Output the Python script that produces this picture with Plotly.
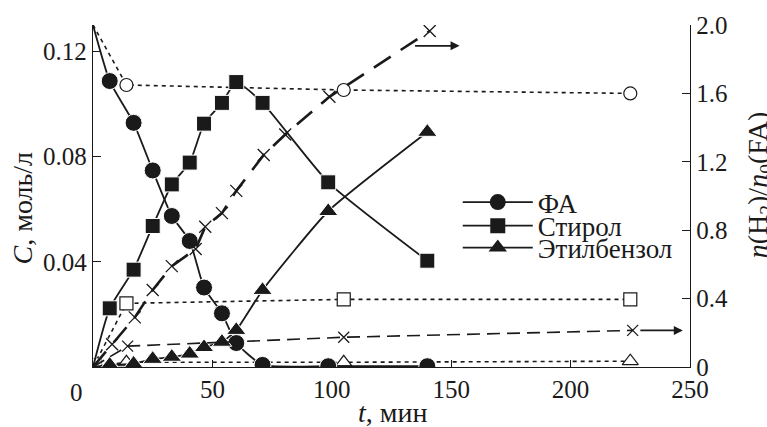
import plotly.graph_objects as go

# ---------------- data ----------------
# main experiment (left axis, mol/L)
t_main = [0, 7, 17, 25, 33, 40.5, 46.5, 54, 60, 71, 98.5, 140]
c_fa = [0.130, 0.1087, 0.0928, 0.0747, 0.0574, 0.0479, 0.0302, 0.0204, 0.0091, 0.0008, 0.0003, 0.0003]
c_styrene = [0.0, 0.0223, 0.0370, 0.0536, 0.0694, 0.0777, 0.0925, 0.1004, 0.1083, 0.1004, 0.0702, 0.0404]
c_ethylbenzene = [0.0, 0.0008, 0.0012, 0.0030, 0.0038, 0.0050, 0.0075, 0.0095, 0.0140, 0.0292, 0.0592, 0.0893]

# control experiment (left axis, open markers)
t_ctrl = [0, 14, 105, 225]
c_fa_ctrl = [0.130, 0.1072, 0.1053, 0.1040]
c_styrene_ctrl = [0.0, 0.0242, 0.0257, 0.0257]
c_eb_ctrl = [0.0, 0.0018, 0.0018, 0.0022]

# hydrogen ratio (right axis)
t_h2 = [0, 8, 17.5, 25, 33, 43, 47, 54, 60, 71.5, 80.5, 99, 141]
r_h2 = [0.0, 0.133, 0.29, 0.45, 0.59, 0.69, 0.82, 0.90, 1.03, 1.24, 1.36, 1.58, 1.965]
t_h2_ctrl = [0, 14.5, 105, 226]
r_h2_ctrl = [0.0, 0.122, 0.174, 0.214]

x_ticks = [0, 50, 100, 150, 200, 250]
y_ticks = [0.04, 0.08, 0.12]
y2_ticks = [0, 0.4, 0.8, 1.2, 1.6, 2.0]
y2_ticktext = ["0", "0.4", "0.8", "1.2", "1.6", "2.0"]

names = ["ФА", "Стирол", "Этилбензол"]

FONT = "Liberation Serif, Times New Roman, DejaVu Serif, serif"
BLACK = "#1a1a1a"
TICK_SIZE = 25
TITLE_SIZE = 28
LEGEND_SIZE = 27

fig = go.Figure()

# control experiment: dotted lines, open markers
def ctrl_trace(t, c, symbol, first_size, size, first_line=BLACK):
    sizes = [first_size] + [size] * (len(t) - 1)
    lcol = [first_line] + [BLACK] * (len(t) - 1)
    return go.Scatter(
        x=t, y=c, mode="lines+markers", showlegend=False,
        line=dict(color=BLACK, width=1.6, dash="4px,4px"),
        marker=dict(symbol=symbol, size=sizes, color="white", opacity=1,
                    line=dict(color=lcol, width=1.2)),
    )

fig.add_trace(ctrl_trace(t_ctrl, c_fa_ctrl, "circle", 0, 13))
fig.add_trace(ctrl_trace(t_ctrl, c_styrene_ctrl, "square", 17, 13, "#aaaaaa"))
fig.add_trace(ctrl_trace(t_ctrl, c_eb_ctrl, "triangle-up", 0, 14))

# hydrogen (right axis)
fig.add_trace(go.Scatter(
    x=t_h2_ctrl, y=r_h2_ctrl, yaxis="y2", mode="lines+markers", showlegend=False,
    line=dict(color=BLACK, width=1.6, dash="13px,7px"),
    marker=dict(symbol="x-thin", size=[0, 11, 11, 11], color=BLACK, opacity=1,
                line=dict(color=BLACK, width=1.3)),
))
fig.add_trace(go.Scatter(
    x=t_h2, y=r_h2, yaxis="y2", mode="lines+markers", showlegend=False,
    line=dict(color=BLACK, width=2.6, dash="20px,12px"),
    marker=dict(symbol="x-thin", size=12, color=BLACK, line=dict(color=BLACK, width=1.3)),
))

# main experiment: solid lines, filled markers
main_series = [(c_fa, "circle", 17), (c_styrene, "square", 15), (c_ethylbenzene, "triangle-up", 17)]
for (vals, sym, sz) in main_series:
    sizes = [0] + [sz] * (len(t_main) - 1)
    fig.add_trace(go.Scatter(
        x=t_main, y=vals, mode="lines+markers", showlegend=False,
        line=dict(color=BLACK, width=1.8, shape="spline", smoothing=0.5),
        marker=dict(symbol=sym, size=sizes, color=BLACK, opacity=1),
    ))

# legend entries (one legend per row to match the tight spacing)
legend_keys = ["legend", "legend2", "legend3"]
for name, (vals, sym, sz), lk in zip(names, main_series, legend_keys):
    fig.add_trace(go.Scatter(
        x=[None], y=[None], mode="lines+markers", name=name, legend=lk,
        line=dict(color=BLACK, width=1.8),
        marker=dict(symbol=sym, size=sz, color=BLACK),
    ))

axis_common = dict(
    showline=True, linecolor=BLACK, linewidth=1.3, ticks="inside", tickcolor=BLACK,
    tickwidth=1.3, showgrid=False, zeroline=False,
    tickfont=dict(family=FONT, size=TICK_SIZE, color=BLACK),
)

leg_common = dict(
    font=dict(family=FONT, size=LEGEND_SIZE, color=BLACK), bgcolor="rgba(0,0,0,0)",
    borderwidth=0, itemwidth=70, xanchor="left", yanchor="middle", x=0.611,
)

title_font = dict(family=FONT, size=TITLE_SIZE, color=BLACK)

# arrows drawn in pixel offsets from their heads (ax/ay relative, in px)
arrow_common = dict(xref="x", yref="y2", showarrow=True, arrowhead=2, arrowsize=1,
                    arrowwidth=1.8, arrowcolor=BLACK, text="", ay=0)

fig.update_layout(
    width=767, height=427,
    margin=dict(l=93, r=77, t=22, b=60),
    paper_bgcolor="white", plot_bgcolor="white",
    font=dict(family=FONT, size=TICK_SIZE, color=BLACK),
    xaxis=dict(range=[0, 250], tickvals=x_ticks,
               ticktext=[""] + [str(v) for v in x_ticks[1:]], ticklen=7, **axis_common),
    yaxis=dict(range=[0, 0.13], tickvals=y_ticks, ticktext=["0.04", "0.08", "0.12"],
               ticklen=8, **axis_common),
    yaxis2=dict(range=[0, 2.0], overlaying="y", side="right", tickvals=y2_ticks,
                ticktext=y2_ticktext, ticklen=8, **axis_common),
    legend=dict(y=0.481, **leg_common),
    legend2=dict(y=0.412, **leg_common),
    legend3=dict(y=0.348, **leg_common),
    annotations=[
        dict(text="0", xref="paper", yref="paper", x=-0.027, y=-0.075,
             xanchor="center", yanchor="middle", showarrow=False,
             font=dict(family=FONT, size=TICK_SIZE, color=BLACK)),
        dict(text="<i>t</i>, мин", xref="paper", yref="paper", x=0.5025, y=-0.134,
             xanchor="center", yanchor="middle", showarrow=False, font=title_font),
        dict(text="<i>C</i>, моль/л", xref="paper", yref="paper", x=-0.118, y=0.465,
             xanchor="center", yanchor="middle", showarrow=False, textangle=-90,
             font=title_font),
        dict(text="<i>n</i>(H<sub>2</sub>)/<i>n</i><sub>0</sub>(FA)", xref="paper", yref="paper",
             x=1.116, y=0.532, xanchor="center", yanchor="middle", showarrow=False,
             textangle=-90, font=title_font),
        dict(x=153.5, y=1.878, ax=-46, **arrow_common),
        dict(x=247, y=0.214, ax=-44, **arrow_common),
    ],
)

fig.write_html("out.html", post_script="document.body.style.margin='0';",
               config={"displayModeBar": False})
